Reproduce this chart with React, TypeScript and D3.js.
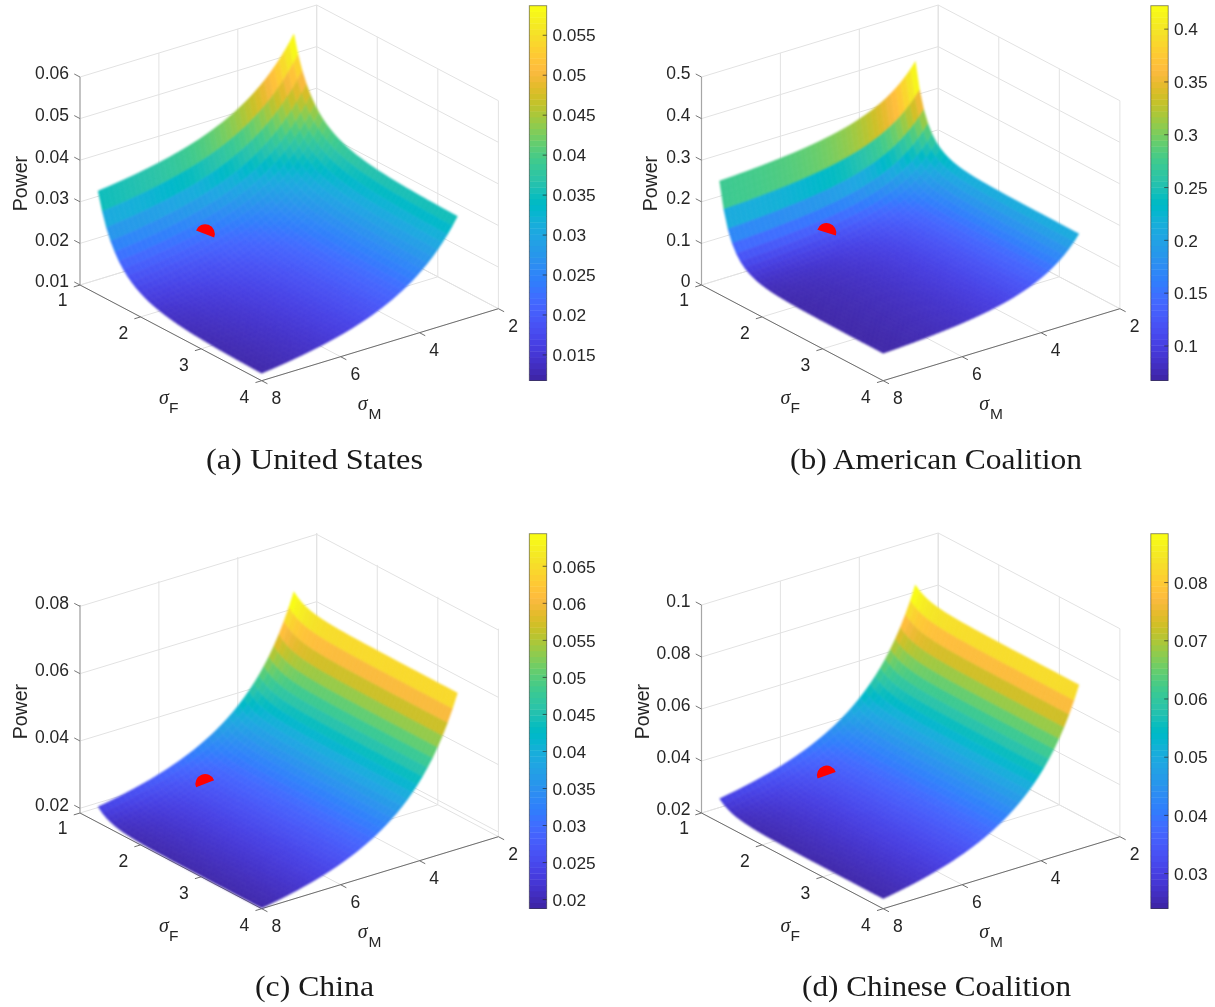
import React, { useMemo } from "react";
import * as d3 from "d3";

// Mesh nodes of the surfaces
const sigmaF = [1.3,1.369,1.438,1.508,1.577,1.646,1.715,1.785,1.854,1.923,1.992,2.062,2.131,2.2,2.269,2.338,2.408,2.477,2.546,2.615,2.685,2.754,2.823,2.892,2.962,3.031,3.1,3.169,3.238,3.308,3.377,3.446,3.515,3.585,3.654,3.723,3.792,3.862,3.931,4];
const sigmaM = [3.04,3.167,3.294,3.422,3.549,3.676,3.803,3.93,4.058,4.185,4.312,4.439,4.566,4.694,4.821,4.948,5.075,5.202,5.33,5.457,5.584,5.711,5.838,5.966,6.093,6.22,6.347,6.474,6.602,6.729,6.856,6.983,7.11,7.238,7.365,7.492,7.619,7.746,7.874,8];

// Power along the sigmaM = 8 edge (by sigmaF) and the sigmaF = 4 edge (by sigmaM)
const usF = [.0349,.03053,.02714,.02444,.02233,.02063,.01925,.01811,.01719,.01642,.01578,.01523,.01478,.01439,.01406,.01377,.01353,.01331,.01313,.01297,.01282,.0127,.01259,.01249,.01241,.01233,.01226,.0122,.01215,.0121,.01205,.01201,.01198,.01194,.01191,.01189,.01186,.01184,.01182,.0118];
const usM = [.0352,.0333,.03158,.03,.02857,.02726,.02607,.02498,.02396,.02304,.02218,.02139,.02067,.01998,.01936,.01878,.01824,.01773,.01725,.01681,.0164,.01601,.01565,.01531,.01498,.01468,.0144,.01413,.01387,.01363,.01341,.01319,.01298,.01279,.0126,.01242,.01226,.0121,.01195,.0118];

const acF = [.2731,.2102,.1682,.1393,.1196,.1057,.0958,.0885,.0833,.0794,.0764,.0742,.0725,.0712,.0702,.0694,.0688,.0683,.0679,.0676,.0673,.0671,.0669,.0668,.0666,.0666,.0665,.0664,.0664,.0663,.0663,.0662,.0662,.0662,.0661,.0661,.0661,.0661,.066,.066];
const acM = [.2099,.1945,.1812,.1694,.1592,.1502,.1422,.1351,.1287,.123,.1179,.1133,.1091,.1052,.1018,.0987,.0958,.0932,.0908,.0885,.0865,.0846,.0829,.0812,.0797,.0783,.077,.0758,.0747,.0736,.0726,.0717,.0708,.07,.0692,.0685,.0678,.0672,.0666,.066];

const cnF = [.0233,.0221,.02126,.02065,.02021,.01989,.01965,.01947,.01933,.01923,.01915,.01908,.01903,.01899,.01896,.01893,.01891,.01889,.01888,.01887,.01886,.01885,.01884,.01884,.01883,.01883,.01882,.01882,.01882,.01882,.01881,.01881,.01881,.01881,.01881,.01881,.01881,.0188,.0188,.0188];
const cnM = [.065,.06075,.057,.05362,.05062,.04792,.04551,.04332,.04131,.0395,.03784,.03633,.03494,.03365,.03248,.03139,.03038,.02944,.02857,.02776,.02701,.0263,.02564,.02502,.02445,.0239,.02339,.02291,.02245,.02202,.02162,.02124,.02087,.02053,.0202,.01989,.0196,.01932,.01905,.0188];

const ccF = [.0292,.02779,.02679,.02607,.02556,.02519,.02491,.02469,.02453,.02441,.02431,.02423,.02417,.02413,.02409,.02406,.02403,.02401,.02399,.02398,.02397,.02396,.02395,.02394,.02394,.02393,.02393,.02393,.02392,.02392,.02392,.02392,.02391,.02391,.02391,.02391,.0239,.0239,.0239,.0239];
const ccM = [.0832,.07774,.07293,.06859,.06475,.06128,.05818,.05537,.05279,.05047,.04834,.0464,.04462,.04296,.04145,.04006,.03876,.03756,.03644,.0354,.03443,.03353,.03268,.03189,.03115,.03045,.02979,.02917,.02858,.02803,.02752,.02703,.02656,.02612,.0257,.02531,.02493,.02457,.02423,.0239];

// Tick values
const fTicks = [1, 2, 3, 4];
const mTicks = [2, 4, 6, 8];
const usZTicks = [0.01, 0.02, 0.03, 0.04, 0.05, 0.06];
const acZTicks = [0, 0.1, 0.2, 0.3, 0.4, 0.5];
const cnZTicks = [0.02, 0.04, 0.06, 0.08];
const ccZTicks = [0.02, 0.04, 0.06, 0.08, 0.1];
const usCbTicks = [0.015, 0.02, 0.025, 0.03, 0.035, 0.04, 0.045, 0.05, 0.055];
const acCbTicks = [0.1, 0.15, 0.2, 0.25, 0.3, 0.35, 0.4];
const cnCbTicks = [0.02, 0.025, 0.03, 0.035, 0.04, 0.045, 0.05, 0.055, 0.06, 0.065];
const ccCbTicks = [0.03, 0.04, 0.05, 0.06, 0.07, 0.08];

// Ranges
const usZRange = [0.01, 0.06], acZRange = [0, 0.5], cnZRange = [0.0186, 0.0804], ccZRange = [0.02, 0.1];
const usCbRange = [0.0118, 0.0587], acCbRange = [0.0673, 0.4222], cnCbRange = [0.0188, 0.0694], ccCbRange = [0.024, 0.0884];

// Red markers: sigmaF, sigmaM, power, angle of the cut made by the surface
const usMarker = [1.75, 5.98, 0.0222, 20.9];
const acMarker = [1.75, 5.98, 0.125, 17];
const cnMarker = [1.75, 5.98, 0.0272, -21.7];
const ccMarker = [1.75, 5.98, 0.0344, -20.2];

// MATLAB parula
const parula = [[.2422,.1504,.6603],[.2504,.165,.7076],[.2578,.1818,.7511],[.2647,.1978,.7952],[.2706,.2147,.8364],[.2751,.2342,.871],[.2783,.2559,.8991],[.2803,.2782,.9221],[.2813,.3006,.9414],[.281,.3228,.9579],[.2795,.3447,.9717],[.276,.3667,.9829],[.2699,.3892,.9906],[.2602,.4123,.9952],[.244,.4358,.9988],[.2206,.4603,.9973],[.1963,.4847,.9892],[.1834,.5074,.9798],[.1786,.5289,.9682],[.1764,.5499,.952],[.1687,.5703,.9359],[.154,.5902,.9218],[.146,.6091,.9079],[.138,.6276,.8973],[.1248,.6459,.8883],[.1113,.6635,.8763],[.0952,.6798,.8598],[.0689,.6948,.8394],[.0297,.7082,.8163],[.0036,.7203,.7917],[.0067,.7312,.766],[.0433,.7411,.7394],[.0964,.75,.712],[.1408,.7584,.6842],[.1717,.767,.6554],[.1938,.7758,.6251],[.2161,.7843,.5923],[.247,.7918,.5567],[.2906,.7973,.5188],[.3406,.8008,.4789],[.3909,.8029,.4354],[.4456,.8024,.3909],[.5044,.7993,.348],[.5616,.7942,.3045],[.6174,.7876,.2612],[.672,.7793,.2227],[.7242,.7698,.191],[.7738,.7598,.1646],[.8203,.7498,.1535],[.8634,.7406,.1596],[.9035,.733,.1774],[.9393,.7288,.21],[.9728,.7298,.2394],[.9956,.7434,.2371],[.997,.7659,.2199],[.9952,.7893,.2028],[.9892,.8136,.1885],[.9786,.8386,.1766],[.9676,.8639,.1643],[.961,.889,.1537],[.9597,.9135,.1423],[.9628,.9373,.1265],[.9691,.9606,.1064],[.9769,.9839,.0805]];
const parulaCss = parula.map(([r, g, b]) => d3.rgb(r * 255, g * 255, b * 255).formatHex());
const parulaRamp = d3.scaleLinear<string>(d3.range(64).map((i) => i / 63), parulaCss).interpolate(d3.interpolateRgb).clamp(true);

const panels = [
  { zF: usF, zM: usM, zTicks: usZTicks, zRange: usZRange, cbTicks: usCbTicks, cbRange: usCbRange, marker: usMarker, caption: "(a) United States", capX: [206, 423], ox: 80, oy: 285, cbX: 529.3, cbY: 5.7, powerX: 20 },
  { zF: acF, zM: acM, zTicks: acZTicks, zRange: acZRange, cbTicks: acCbTicks, cbRange: acCbRange, marker: acMarker, caption: "(b) American Coalition", capX: [790, 1082], ox: 701.5, oy: 285, cbX: 1150.8, cbY: 5.7, powerX: 649.6 },
  { zF: cnF, zM: cnM, zTicks: cnZTicks, zRange: cnZRange, cbTicks: cnCbTicks, cbRange: cnCbRange, marker: cnMarker, caption: "(c) China", capX: [255, 374], ox: 80, oy: 813, cbX: 529.3, cbY: 533.7, powerX: 20 },
  { zF: ccF, zM: ccM, zTicks: ccZTicks, zRange: ccZRange, cbTicks: ccCbTicks, cbRange: ccCbRange, marker: ccMarker, caption: "(d) Chinese Coalition", capX: [802, 1071], ox: 701.5, oy: 813, cbX: 1150.8, cbY: 533.7, powerX: 642 },
];

const U = [181.7, 95.7]; // screen vector of the sigmaF axis
const V = [236.7, -72]; // screen vector of the sigmaM axis
const H = 208; // screen height of the z axis
const CB_W = 17.4;
const CB_H = 374.8;
const TICK = 6.5;
const SANS = "'Liberation Sans', Arial, sans-serif";
const TXT = "#262626";
const GRID = "#e2e2e2";

function Panel({ p }: { p: (typeof panels)[number] }) {
  const { ox, oy } = p;
  const fs = d3.scaleLinear([1, 4], [0, 1]);
  const ms = d3.scaleLinear([8, 2], [0, 1]);
  const zs = d3.scaleLinear(p.zRange, [0, H]);
  const cbY = d3.scaleLinear(p.cbRange, [p.cbY + CB_H, p.cbY]);
  const proj = (f: number, m: number, z: number): [number, number] => [
    ox + fs(f) * U[0] + ms(m) * V[0],
    oy + fs(f) * U[1] + ms(m) * V[1] - zs(z),
  ];
  const zMin = p.zRange[0], zMax = p.zRange[1];
  const seg = (a: [number, number], b: [number, number]) => d3.line()([a, b]) as string;

  const colorOf = (z: number) => parulaRamp((z - p.cbRange[0]) / (p.cbRange[1] - p.cbRange[0]));

  const quads = useMemo(() => {
    const out: { d: string; c: string }[] = [];
    const base = p.zF[p.zF.length - 1];
    const zAt = (j: number, k: number) => p.zF[j] + p.zM[k] - base;
    const closed = d3.line().curve(d3.curveLinearClosed);
    for (let j = 0; j < sigmaF.length - 1; j++) {
      for (let k = 0; k < sigmaM.length - 1; k++) {
        const pts = [
          proj(sigmaF[j], sigmaM[k], zAt(j, k)),
          proj(sigmaF[j + 1], sigmaM[k], zAt(j + 1, k)),
          proj(sigmaF[j + 1], sigmaM[k + 1], zAt(j + 1, k + 1)),
          proj(sigmaF[j], sigmaM[k + 1], zAt(j, k + 1)),
        ];
        out.push({ d: closed(pts) as string, c: colorOf(zAt(j, k)) });
      }
    }
    return out;
  }, [p]);

  const grid: string[] = [];
  fTicks.forEach((f) => {
    grid.push(seg(proj(f, 8, zMin), proj(f, 2, zMin)));
    grid.push(seg(proj(f, 2, zMin), proj(f, 2, zMax)));
  });
  mTicks.forEach((m) => {
    grid.push(seg(proj(1, m, zMin), proj(4, m, zMin)));
    grid.push(seg(proj(1, m, zMin), proj(1, m, zMax)));
  });
  p.zTicks.forEach((z) => {
    grid.push(seg(proj(1, 8, z), proj(1, 2, z)));
    grid.push(seg(proj(1, 2, z), proj(4, 2, z)));
  });

  const uN = Math.hypot(U[0], U[1]), vN = Math.hypot(V[0], V[1]);
  const tu: [number, number] = [(U[0] / uN) * TICK, (U[1] / uN) * TICK];
  const tv: [number, number] = [(V[0] / vN) * TICK, (V[1] / vN) * TICK];

  const [mkF, mkM, mkZ, mkA] = p.marker;
  const mk = proj(mkF, mkM, mkZ);
  const theta = (mkA * Math.PI) / 180;
  const mkPath = d3.path();
  mkPath.arc(mk[0], mk[1], 9.7, theta, theta - Math.PI, true);
  mkPath.closePath();

  const capBase = oy > 500 ? 996.3 : 469.3;
  const fLab = proj(4, 8, zMin);

  return (
    <g fontFamily={SANS} fill={TXT}>
      <g stroke={GRID} strokeWidth={1} fill="none">
        {grid.map((d, i) => <path key={i} d={d} />)}
      </g>

      {/* axes */}
      <g fill="none">
        <path d={seg(proj(1, 8, zMin), proj(1, 8, zMax))} stroke="#a6a6a6" strokeWidth={1.2} />
        <path d={seg(proj(1, 8, zMin), proj(4, 8, zMin))} stroke="#6e6e6e" strokeWidth={1} />
        <path d={seg(proj(4, 8, zMin), proj(4, 2, zMin))} stroke="#6e6e6e" strokeWidth={1} />
        {p.zTicks.map((z) => {
          const a = proj(1, 8, z);
          return <path key={z} d={seg(a, [a[0] - tu[0], a[1] - tu[1]])} stroke="#777" strokeWidth={1} />;
        })}
        {fTicks.map((f) => {
          const a = proj(f, 8, zMin);
          return <path key={f} d={seg(a, [a[0] - tv[0], a[1] - tv[1]])} stroke="#6e6e6e" strokeWidth={1} />;
        })}
        {mTicks.map((m) => {
          const a = proj(4, m, zMin);
          return <path key={m} d={seg(a, [a[0] + tu[0], a[1] + tu[1]])} stroke="#6e6e6e" strokeWidth={1} />;
        })}
      </g>

      {/* surface */}
      <g filter="url(#softSurface)">
        {quads.map((q, i) => (
          <path key={i} d={q.d} fill={q.c} stroke={q.c} strokeWidth={0.5} strokeLinejoin="round" />
        ))}
      </g>

      <path d={mkPath.toString()} fill="#ff0000" />

      {/* tick labels */}
      <g fontSize={17.5}>
        {p.zTicks.map((z) => {
          const a = proj(1, 8, z);
          return <text key={z} x={a[0] - 11} y={a[1] - 4} dy="0.36em" textAnchor="end">{String(z)}</text>;
        })}
        {fTicks.map((f) => {
          const a = proj(f, 8, zMin);
          return <text key={f} x={a[0] - 17.3} y={a[1] + (f === 1 ? 14.3 : 15.8)} dy="0.36em" textAnchor="middle">{f}</text>;
        })}
        {mTicks.map((m) => {
          const a = proj(4, m, zMin);
          return <text key={m} x={a[0] + 14.7} y={a[1] + 17} dy="0.36em" textAnchor="middle">{m}</text>;
        })}
      </g>

      {/* axis labels */}
      <text transform={`translate(${p.powerX},${oy - 101.4}) rotate(-90)`} fontSize={19.5} textAnchor="middle" dy="0.36em">Power</text>
      <text x={fLab[0] - 97.7} y={fLab[1] + 17.5} dy="0.3em" fontSize={20} textAnchor="middle" fontFamily="'Liberation Serif', serif" fontStyle="italic">σ</text>
      <text x={fLab[0] - 88} y={fLab[1] + 26.5} dy="0.36em" fontSize={15.5} textAnchor="middle">F</text>
      <text x={fLab[0] + 100.9} y={fLab[1] + 23.5} dy="0.3em" fontSize={20} textAnchor="middle" fontFamily="'Liberation Serif', serif" fontStyle="italic">σ</text>
      <text x={fLab[0] + 113.3} y={fLab[1] + 32.5} dy="0.36em" fontSize={15.5} textAnchor="middle">M</text>

      {/* colorbar */}
      <g>
        {parulaCss.map((c, i) => {
          const h = CB_H / 64;
          return <rect key={i} x={p.cbX} y={p.cbY + CB_H - (i + 1) * h} width={CB_W} height={h + 0.4} fill={c} />;
        })}
        <rect x={p.cbX} y={p.cbY} width={CB_W} height={CB_H} fill="none" stroke="#262626" strokeOpacity={0.55} strokeWidth={0.9} />
        {p.cbTicks.map((t) => (
          <g key={t}>
            <path d={seg([p.cbX + CB_W - 4, cbY(t)], [p.cbX + CB_W, cbY(t)])} stroke="#262626" strokeOpacity={0.75} strokeWidth={0.9} fill="none" />
            <text x={p.cbX + CB_W + 5.7} y={cbY(t)} dy="0.36em" fontSize={17.3}>{String(t)}</text>
          </g>
        ))}
      </g>

      {/* caption */}
      <text x={p.capX[0]} y={capBase} fontFamily="'Liberation Serif', serif" fontSize={30} fill="#1a1a1a" textLength={p.capX[1] - p.capX[0]} lengthAdjust="spacingAndGlyphs">{p.caption}</text>
    </g>
  );
}

export default function App() {
  return (
    <svg width={1215} height={1007} viewBox="0 0 1215 1007" style={{ position: "absolute", left: 0, top: 0, background: "#fff" }}>
      <defs>
        <filter id="soft" x="0" y="0" width="1215" height="1007" filterUnits="userSpaceOnUse" colorInterpolationFilters="sRGB">
          <feGaussianBlur stdDeviation="0.4" />
        </filter>
        <filter id="softSurface" x="0" y="0" width="1215" height="1007" filterUnits="userSpaceOnUse" colorInterpolationFilters="sRGB">
          <feGaussianBlur stdDeviation="0.8" />
        </filter>
      </defs>
      <g filter="url(#soft)">
        {panels.map((p, i) => <Panel key={i} p={p} />)}
      </g>
    </svg>
  );
}
